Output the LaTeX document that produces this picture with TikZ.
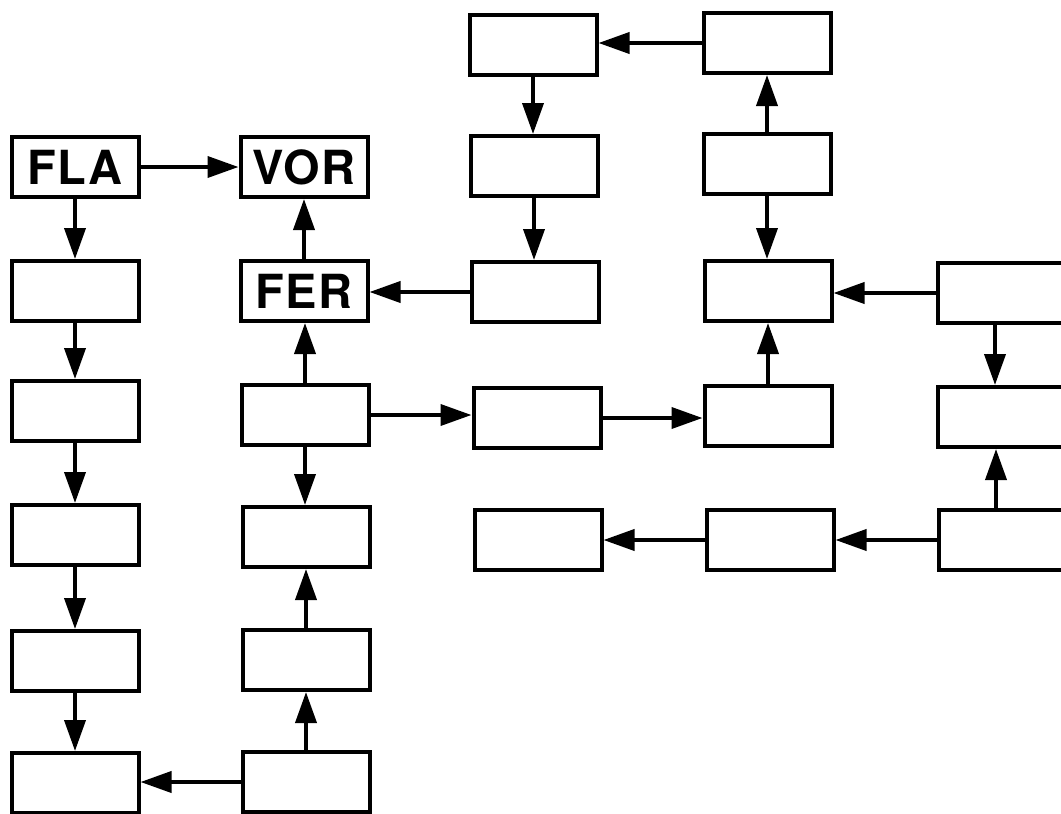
\documentclass[tikz,border=0pt]{standalone}
\usepackage{fontspec}
\setmainfont{TeX Gyre Heros}[LetterSpace=3]
\usetikzlibrary{arrows.meta}
\begin{document}
\begin{tikzpicture}[x=1pt,y=-1pt,
  blk/.style={draw,line width=4pt,minimum width=127pt,minimum height=60pt,inner sep=0pt,fill=white,
    font=\fontsize{47}{47}\selectfont\bfseries},
  arr/.style={line width=3.8pt,-{Triangle[length=31pt,width=21pt]}}]
\useasboundingbox (0,0) rectangle (1061,814);
\clip (0,0) rectangle (1061,814);
% column 1
\node[blk] (a1) at (75,167) {FLA};
\node[blk] (a2) at (75,291) {};
\node[blk] (a3) at (75,411) {};
\node[blk] (a4) at (75,535) {};
\node[blk] (a5) at (75,661) {};
\node[blk] (a6) at (75,783) {};
% column 2
\node[blk] (b1) at (304,167) {VOR};
\node[blk] (b2) at (304,291) {FER};
\node[blk] (b3) at (305,415) {};
\node[blk] (b4) at (306,537) {};
\node[blk] (b5) at (306,660) {};
\node[blk] (b6) at (306,782) {};
% column 3
\node[blk] (c0) at (533,45) {};
\node[blk] (c1) at (534,166) {};
\node[blk] (c2) at (535,292) {};
\node[blk] (c3) at (537,418) {};
\node[blk] (c4) at (538,540) {};
% column 4
\node[blk] (d0) at (767,43) {};
\node[blk] (d1) at (767,164) {};
\node[blk] (d2) at (768,291) {};
\node[blk] (d3) at (768,416) {};
\node[blk] (d4) at (770,540) {};
% column 5
\node[blk] (e2) at (1001,293) {};
\node[blk] (e3) at (1001,417) {};
\node[blk] (e4) at (1002,540) {};
% connectors
\draw[arr] (a1) -- (b1);
\draw[arr] (a1) -- (a2);
\draw[arr] (a2) -- (a3);
\draw[arr] (a3) -- (a4);
\draw[arr] (a4) -- (a5);
\draw[arr] (a5) -- (a6);
\draw[arr] (b6.west) -- (b6.west -| a6.east);
\draw[arr] (b6) -- (b5);
\draw[arr] (b5) -- (b4);
\draw[arr] (b3.south) -- (b3.south |- b4.north);
\draw[arr] (b3.north) -- (b3.north |- b2.south);
\draw[arr] (b2) -- (b1);
\draw[arr] (b3.east) -- (b3.east -| c3.west);
\draw[arr] (c3.east) -- (c3.east -| d3.west);
\draw[arr] (d3) -- (d2);
\draw[arr] (c2.west) -- (c2.west -| b2.east);
\draw[arr] (c0.south) -- (c0.south |- c1.north);
\draw[arr] (c1.south) -- (c1.south |- c2.north);
\draw[arr] (d0.west) -- (d0.west -| c0.east);
\draw[arr] (d1) -- (d0);
\draw[arr] (d1.south) -- (d1.south |- d2.north);
\draw[arr] (e2.west) -- (e2.west -| d2.east);
\draw[arr] (e2.south -| 995,0) -- (e3.north -| 995,0);
\draw[arr] (e4.north -| 996,0) -- (e3.south -| 996,0);
\draw[arr] (e4) -- (d4);
\draw[arr] (d4) -- (c4);
\end{tikzpicture}
\end{document}
